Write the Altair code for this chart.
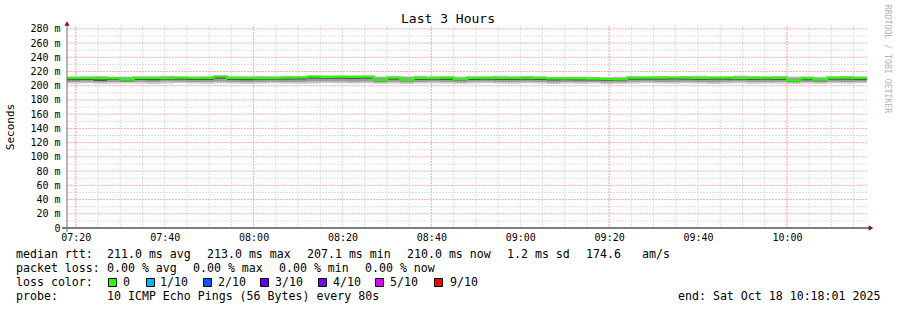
import datetime as dt
import altair as alt
import pandas as pd

MONO = "DejaVu Sans Mono"

# ---------------- data ----------------
# 60 bins of 3 minutes starting at 07:18:01 (3-hour window ending 10:18:01)
median = [211.0, 211.2, 211.0, 210.8, 208.5, 211.2, 211.0, 211.0, 211.3, 211.0,
          211.2, 213.0, 211.0, 211.2, 210.8, 211.0, 211.4, 211.6, 212.8, 212.6,
          212.8, 212.5, 212.7, 208.0, 211.5, 208.3, 211.2, 211.0, 211.3, 209.0,
          211.0, 211.4, 211.2, 211.0, 211.3, 211.1, 210.3, 210.2, 210.4, 210.1,
          209.2, 209.0, 211.4, 211.5, 211.3, 211.6, 211.4, 211.2, 211.3, 211.5,
          211.2, 211.0, 211.3, 211.2, 207.1, 210.8, 208.5, 211.3, 211.5, 211.2]
smoke_min = [203.0, 203.6, 202.8, 203.2, 203.4, 203.0, 202.6, 203.3, 203.8, 203.1,
             202.9, 203.5, 203.2, 202.7, 203.0, 203.6, 203.1, 202.8, 203.3, 203.9,
             203.4, 203.0, 203.6, 202.8, 203.2, 202.6, 203.1, 203.5, 203.0, 202.7,
             203.3, 203.8, 203.1, 202.9, 203.4, 203.0, 202.5, 203.2, 202.8, 203.0,
             202.6, 202.9, 203.3, 203.7, 203.0, 202.8, 203.4, 203.1, 202.6, 203.2,
             203.5, 202.9, 203.1, 203.3, 202.7, 203.0, 202.8, 203.4, 203.1, 203.6]
smoke_max = [213.0, 213.3, 213.6, 213.1, 212.9, 213.5, 213.2, 213.9, 213.4, 213.1,
             213.3, 214.6, 213.5, 213.2, 213.8, 213.4, 214.0, 213.6, 214.3, 214.5,
             214.2, 214.4, 214.1, 213.1, 213.7, 213.4, 214.1, 213.3, 213.5, 213.0,
             213.6, 213.2, 213.9, 213.4, 213.7, 213.3, 212.4, 212.8, 212.5, 212.7,
             212.3, 212.6, 213.5, 213.2, 213.8, 213.3, 213.6, 214.1, 213.5, 213.2,
             214.3, 213.7, 213.4, 213.6, 212.9, 213.3, 212.7, 213.4, 213.8, 213.1]
mid_lo = [205.3, 205.7, 205.0, 205.4, 205.1, 205.5, 205.2, 205.8, 205.6, 205.3,
          205.1, 205.9, 205.4, 205.0, 205.3, 205.7, 205.4, 205.1, 206.0, 206.3,
          206.1, 205.7, 205.9, 205.0, 205.5, 204.8, 205.4, 205.8, 205.3, 204.9,
          205.5, 205.9, 205.4, 205.1, 205.6, 205.3, 204.7, 205.4, 205.0, 205.2,
          204.7, 204.9, 205.5, 205.9, 205.3, 205.1, 205.6, 205.4, 204.9, 205.5,
          205.8, 205.2, 205.4, 205.6, 204.4, 205.3, 204.8, 205.6, 205.4, 205.7]
mid_hi = [212.2, 212.4, 212.3, 212.1, 212.0, 212.4, 212.2, 212.6, 212.4, 212.1,
          212.3, 213.4, 212.5, 212.2, 212.5, 212.4, 212.8, 212.7, 213.4, 213.6,
          213.4, 213.5, 213.3, 211.9, 212.6, 211.8, 212.7, 212.3, 212.5, 211.7,
          212.4, 212.2, 212.6, 212.3, 212.5, 212.2, 211.5, 211.8, 211.6, 211.7,
          211.3, 211.4, 212.5, 212.3, 212.6, 212.4, 212.5, 212.8, 212.4, 212.2,
          213.0, 212.6, 212.3, 212.5, 211.2, 212.0, 211.4, 212.4, 212.6, 212.2]
inner_lo = [207.8, 208.2, 206.6, 208.0, 206.4, 208.1, 207.8, 208.3, 208.4, 208.0,
            208.1, 209.8, 208.0, 207.7, 208.0, 208.4, 208.6, 208.7, 209.8, 209.9,
            209.8, 209.6, 209.8, 206.1, 208.6, 206.4, 208.2, 208.5, 208.1, 207.0,
            208.1, 208.5, 208.2, 208.0, 208.4, 208.1, 207.4, 207.7, 207.5, 207.4,
            206.8, 206.7, 208.5, 208.6, 208.4, 208.7, 208.3, 208.1, 208.4, 208.5,
            208.3, 208.0, 208.4, 208.2, 205.4, 207.8, 206.4, 208.3, 208.6, 208.2]
inner_hi = [210.4, 210.6, 209.2, 210.2, 208.8, 210.5, 210.3, 210.6, 210.8, 210.3,
            210.5, 212.4, 210.4, 210.1, 210.3, 210.7, 210.9, 211.0, 212.2, 212.0,
            212.2, 211.9, 212.1, 208.4, 210.9, 208.8, 210.6, 210.8, 210.6, 209.6,
            210.4, 210.8, 210.6, 210.3, 210.7, 210.4, 209.7, 209.6, 209.8, 209.5,
            208.9, 208.8, 210.8, 210.9, 210.7, 211.0, 210.8, 210.6, 210.8, 210.9,
            210.7, 210.4, 210.8, 210.6, 207.6, 210.2, 208.8, 210.7, 210.9, 210.5]

x_labels = ["07:20", "07:40", "08:00", "08:20", "08:40", "09:00", "09:20", "09:40", "10:00"]
x_major = ["07:20", "08:00", "08:40", "09:20", "10:00"]
y_ticks = [0, 20, 40, 60, 80, 100, 120, 140, 160, 180, 200, 220, 240, 260, 280]
y_minor = [10, 30, 50, 70, 90, 110, 130, 150, 170, 190, 210, 230, 250, 270]

loss_labels = ["0", "1/10", "2/10", "3/10", "4/10", "5/10", "9/10"]
loss_colors = ["#26ff00", "#00b8ff", "#0059ff", "#5e00ff", "#7e00ff", "#dd00ff", "#ff0000"]

# ---------------- derived tables ----------------
UTC = dt.timezone.utc
t_start = dt.datetime(2025, 10, 18, 7, 18, 1, tzinfo=UTC)
t_end = dt.datetime(2025, 10, 18, 10, 18, 1, tzinfo=UTC)
STEP = 180  # seconds per bin


def ms(d):
    return int(d.timestamp() * 1000)


def hm(s):
    h, m = s.split(":")
    return ms(dt.datetime(2025, 10, 18, int(h), int(m), tzinfo=UTC))


n = len(median)
times = [ms(t_start + dt.timedelta(seconds=STEP * k)) for k in range(n)] + [ms(t_end)]


def ext(a):
    return a + [a[-1]]


df = pd.DataFrame({
    "t": times,
    "med": ext(median),
    "lo1": ext(smoke_min), "hi1": ext(smoke_max),
    "lo2": ext(mid_lo), "hi2": ext(mid_hi),
    "lo3": ext(inner_lo), "hi3": ext(inner_hi),
})

minor_times = []
cur = dt.datetime(2025, 10, 18, 7, 20, tzinfo=UTC)
while cur < t_end:
    minor_times.append(ms(cur))
    cur += dt.timedelta(minutes=5)

W, H = 800, 202
X0, Y0 = 67, 26
XSCALE = alt.Scale(type="utc", domain=[ms(t_start), ms(t_end)])
YSCALE = alt.Scale(domain=[0, 284], nice=False)

X_AXIS = alt.Axis(
    values=[hm(s) for s in x_labels],
    labelExpr="utcFormat(datum.value, '%H:%M')",
    domain=False, ticks=False, grid=False, title=None,
    labelFont=MONO, labelFontSize=10, labelColor="#000000",
    labelPadding=4, labelBaseline="top",
)
Y_AXIS = alt.Axis(
    values=y_ticks,
    labelExpr="datum.value == 0 ? '0' : datum.value + ' m'",
    domain=False, ticks=False, grid=False, title=None,
    labelFont=MONO, labelFontSize=10, labelColor="#000000",
    labelPadding=7,
)


def X(field):
    return alt.X(field, scale=XSCALE, axis=X_AXIS)


def Y(field):
    return alt.Y(field, scale=YSCALE, axis=Y_AXIS)


minor_gray = "#dedede"
major_red = "#ffb0b0"

grid_vminor = alt.Chart(pd.DataFrame({"t": minor_times})).mark_rule(
    color=minor_gray, strokeWidth=1, strokeDash=[2, 1]
).encode(x=X("t:T"))

grid_hminor = alt.Chart(pd.DataFrame({"v": y_minor})).mark_rule(
    color=minor_gray, strokeWidth=1, strokeDash=[2, 1]
).encode(y=Y("v:Q"))

grid_vmajor = alt.Chart(pd.DataFrame({"t": [hm(s) for s in x_major]})).mark_rule(
    color=major_red, strokeWidth=1, strokeDash=[2, 1]
).encode(x=X("t:T"))

grid_hmajor = alt.Chart(pd.DataFrame({"v": y_ticks[1:]})).mark_rule(
    color=major_red, strokeWidth=1, strokeDash=[2, 1]
).encode(y=Y("v:Q"))

base = alt.Chart(df)

outer = base.mark_area(interpolate="step-after", color="#c8c8c8").encode(
    x=X("t:T"), y=Y("lo1:Q"), y2="hi1:Q")
mid = base.mark_area(interpolate="step-after", color="#9c9c9c").encode(
    x=X("t:T"), y=Y("lo2:Q"), y2="hi2:Q")
inner = base.mark_area(interpolate="step-after", color="#555555").encode(
    x=X("t:T"), y=Y("lo3:Q"), y2="hi3:Q")
med_line = base.mark_line(interpolate="step-after", color=loss_colors[0], strokeWidth=2.2).encode(
    x=X("t:T"), y=Y("med:Q"))

ONE = alt.Data(values=[{"a": 1}])


def txt(s, x, y, size=11.6, align="left", angle=0, color="#000000"):
    return alt.Chart(alt.Data(values=[{"s": s}])).mark_text(
        align=align, baseline="middle", font=MONO, fontSize=size, angle=angle, color=color
    ).encode(x=alt.value(x - X0), y=alt.value(y - Y0), text="s:N")


# axes lines and arrows
x_axis_line = alt.Chart(ONE).mark_rule(color="#000000", strokeWidth=1).encode(
    x=alt.value(62 - X0), x2=alt.value(870 - X0), y=alt.value(H))
y_axis_line = alt.Chart(ONE).mark_rule(color="#6e6e6e", strokeWidth=1).encode(
    x=alt.value(0), y=alt.value(24 - Y0), y2=alt.value(232 - Y0))
arrow_up = alt.Chart(ONE).mark_point(shape="triangle-up", filled=True, color="#7a1a1a", size=28, opacity=1).encode(
    x=alt.value(0), y=alt.value(23.5 - Y0))
arrow_right = alt.Chart(ONE).mark_point(shape="triangle-right", filled=True, color="#7a1a1a", size=28, opacity=1).encode(
    x=alt.value(871 - X0), y=alt.value(H))

texts = [
    txt("Last 3 Hours", 448, 19, size=13, align="center"),
    txt("Seconds", 11, 127, size=11, align="center", angle=270),
    txt("RRDTOOL / TOBI OETIKER", 887, 59, size=8.2, align="center", angle=90, color="#b4b4b4"),
    # line 1
    txt("median rtt:", 16, 254.5),
    txt("211.0 ms avg", 107, 254.5),
    txt("213.0 ms max", 207, 254.5),
    txt("207.1 ms min", 307, 254.5),
    txt("210.0 ms now", 407, 254.5),
    txt("1.2 ms sd", 507, 254.5),
    txt("174.6", 586, 254.5),
    txt("am/s", 642, 254.5),
    # line 2
    txt("packet loss:", 16, 268.5),
    txt("0.00 % avg", 107, 268.5),
    txt("0.00 % max", 193, 268.5),
    txt("0.00 % min", 279, 268.5),
    txt("0.00 % now", 365, 268.5),
    # line 3
    txt("loss color:", 16, 282.5),
    # line 4
    txt("probe:", 16, 296.5),
    txt("10 ICMP Echo Pings (56 Bytes) every 80s", 107, 296.5),
    txt("end: Sat Oct 18 10:18:01 2025", 678, 296.5),
]

box_left = [108.5, 146.5, 203.5, 260.5, 318.5, 375.5, 434.5]
label_left = [123, 160, 218, 275, 333, 390, 450]
boxes = []
for lab, col, bx, lx in zip(loss_labels, loss_colors, box_left, label_left):
    boxes.append(
        alt.Chart(ONE).mark_rect(color=col, stroke="#000000", strokeWidth=1).encode(
            x=alt.value(bx - X0), x2=alt.value(bx + 8 - X0),
            y=alt.value(278.5 - Y0), y2=alt.value(286.5 - Y0))
    )
    boxes.append(txt(lab, lx, 282.5))

chart = alt.layer(
    grid_vminor, grid_hminor, grid_vmajor, grid_hmajor,
    outer, mid, inner, med_line,
    x_axis_line, y_axis_line, arrow_up, arrow_right,
    *texts, *boxes,
).properties(
    width=W, height=H,
    padding={"left": X0, "top": Y0, "right": 897 - X0 - W, "bottom": 310 - Y0 - H},
    autosize=alt.AutoSizeParams(type="none"),
    background="#ffffff",
).configure_view(stroke=None)

chart.save("out.html", embed_options={"renderer": "svg", "actions": False})
